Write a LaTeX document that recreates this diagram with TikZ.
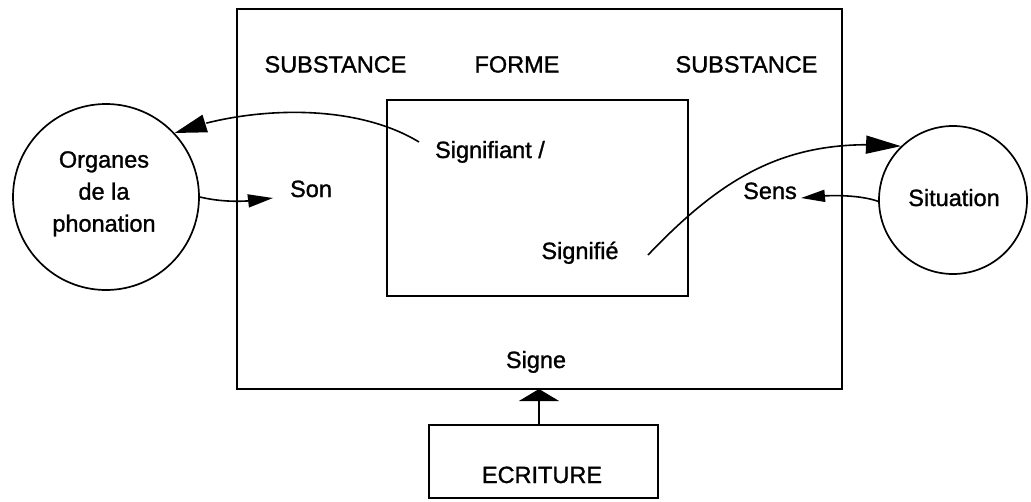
\documentclass[tikz,border=0pt]{standalone}
\usepackage{fontspec}
\setmainfont{Liberation Sans}
\newfontfamily\lblfont[UprightFeatures={FakeBold=1.2}]{Liberation Sans}
\usetikzlibrary{arrows.meta,bending}
\begin{document}
\begin{tikzpicture}[x=1pt,y=-1pt,
  frame/.style={draw, line width=2pt, inner sep=0pt},
  ring/.style={draw, circle, line width=1.7pt, inner sep=0pt},
  lbl/.style={inner sep=0pt, anchor=base, font=\lblfont\fontsize{23.5}{32}\selectfont},
  link/.style={line width=1.6pt}]
\useasboundingbox (0,0) rectangle (1031,501);

% boxes
\node[frame, minimum width=605pt, minimum height=380pt] (outer) at (539.5,199) {};
\node[frame, minimum width=301pt, minimum height=196pt] (inner) at (537.5,198) {};
\node[frame, minimum width=229pt, minimum height=73pt] (ecrbox) at (543.5,461.5) {};

% circles
\node[ring, minimum size=186pt] (organes) at (106,197) {};
\node[ring, minimum size=148pt] (situation) at (953,200) {};

% labels
\node[lbl] (subL) at (335.5,72.5) {SUBSTANCE};
\node[lbl] (forme) at (517,72.5) {FORME};
\node[lbl] (subR) at (746.5,72.5) {SUBSTANCE};
\node[lbl] (signifiant) at (490,158) {Signifiant /};
\node[lbl] (signifie) at (580,259) {Signifié};
\node[lbl] (son) at (311,197) {Son};
\node[lbl] (sens) at (770,199) {Sens};
\node[lbl] (situationT) at (954,206) {Situation};
\node[lbl, anchor=north, align=center] (organesT) at (104,151) {Organes\\de la\\phonation};
\node[lbl] (signe) at (536,368) {Signe};
\node[lbl] (ecriture) at (542,483) {ECRITURE};

% connectors
\coordinate (sa) at (419,142);
\coordinate (sonTip) at (273,198);
\coordinate (se) at (648,255);
\coordinate (sensTip) at (801,198);
\coordinate (signeTip) at (539,389);

\draw[link, -{Triangle[length=32pt,width=18pt]}] (sa) .. controls (350,100) and (240,108) .. (organes.43);
\draw[link, -{Triangle[length=25pt,width=13pt]}] (organes.east) .. controls (225,203) and (250,202) .. (sonTip);
\draw[link, -{Triangle[length=35pt,width=18pt]}] (se) .. controls (728,171) and (793,137) .. (situation.134);
\draw[link, -{Triangle[length=24pt,width=12pt]}] (situation.181) .. controls (860,195) and (830,194) .. (sensTip);
\draw[link, -{Triangle[length=12pt,width=40pt]}] (signeTip |- ecrbox.north) -- (signeTip);
\end{tikzpicture}
\end{document}
